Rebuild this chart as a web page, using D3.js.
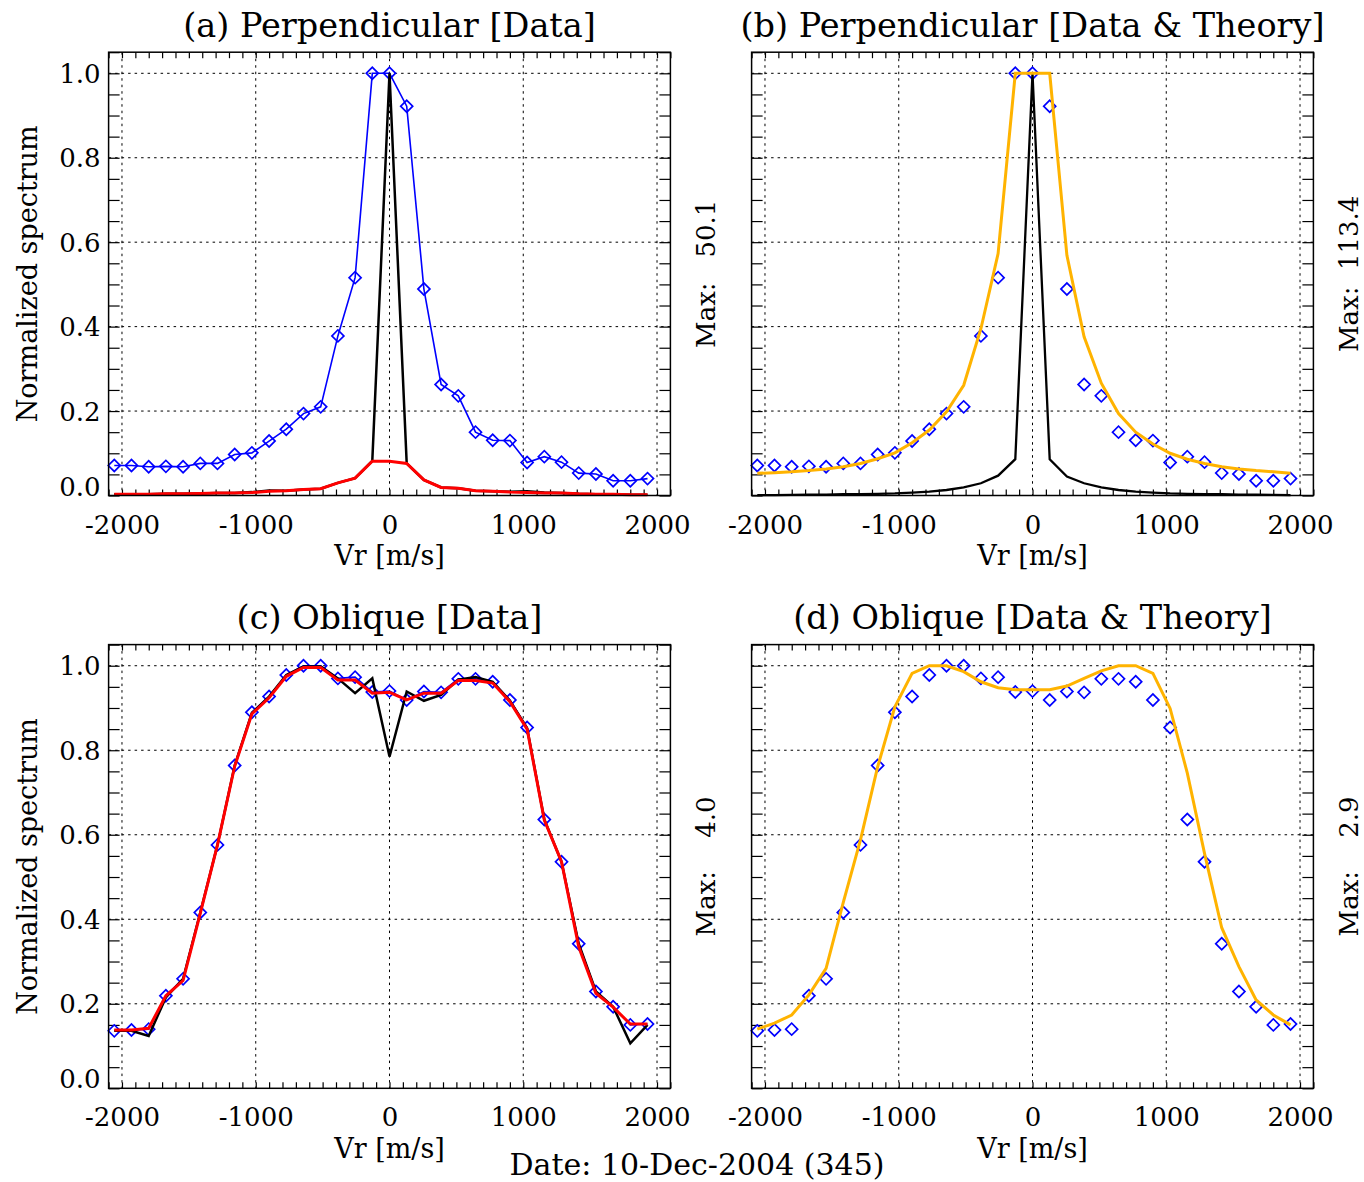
<!DOCTYPE html>
<html><head><meta charset="utf-8">
<script src="https://cdn.jsdelivr.net/npm/d3@7"></script>
<style>
body{margin:0;background:#fff}
svg text{font-family:"DejaVu Serif",serif;fill:#000}
</style>
</head><body>
<svg id="chart" width="1364" height="1182"></svg>
<script>
// ---------------- data ----------------
const vr = [-2057.6,-1929.0,-1800.4,-1671.8,-1543.2,-1414.6,-1286.0,-1157.4,-1028.8,-900.2,-771.6,-643.0,-514.4,-385.8,-257.2,-128.6,
            0,128.6,257.2,385.8,514.4,643.0,771.6,900.2,1028.8,1157.4,1286.0,1414.6,1543.2,1671.8,1800.4,1929.0];

const perpData = [0.071,0.071,0.068,0.069,0.068,0.076,0.076,0.097,0.101,0.129,0.157,0.194,0.210,0.378,0.516,1.000,
                  1.000,0.922,0.489,0.263,0.236,0.150,0.131,0.130,0.078,0.092,0.079,0.053,0.051,0.035,0.035,0.040];
const perpBlack = [0.003,0.003,0.003,0.004,0.004,0.005,0.006,0.006,0.008,0.012,0.011,0.014,0.016,0.030,0.041,0.082,
                   1.000,0.076,0.037,0.019,0.017,0.011,0.010,0.009,0.010,0.007,0.006,0.004,0.003,0.003,0.002,0.002];
const perpRed = [0.003,0.003,0.003,0.004,0.004,0.005,0.006,0.006,0.007,0.010,0.011,0.014,0.016,0.030,0.041,0.081,
                 0.081,0.076,0.037,0.019,0.017,0.011,0.010,0.008,0.007,0.006,0.006,0.004,0.003,0.003,0.002,0.002];
const perpTheory = [0.0525,0.054,0.056,0.059,0.063,0.068,0.076,0.087,0.101,0.125,0.155,0.198,0.261,0.395,0.573,1.000,
                    1.000,1.000,0.569,0.376,0.266,0.194,0.150,0.122,0.100,0.086,0.076,0.068,0.063,0.059,0.056,0.0525];
const perpTheoryBlack = [0.001,0.001,0.0015,0.002,0.002,0.003,0.003,0.004,0.005,0.007,0.009,0.013,0.019,0.029,0.047,0.086,
                         1.000,0.086,0.045,0.029,0.019,0.013,0.009,0.007,0.005,0.004,0.003,0.003,0.002,0.002,0.0015,0.001];

const obliqData = [0.136,0.138,0.140,0.219,0.259,0.416,0.576,0.764,0.890,0.927,0.978,1.000,1.000,0.970,0.973,0.938,
                   0.940,0.919,0.939,0.937,0.969,0.969,0.962,0.919,0.854,0.636,0.536,0.342,0.229,0.193,0.150,0.152];
const obliqBlack = [0.136,0.136,0.124,0.215,0.259,0.416,0.576,0.764,0.888,0.927,0.978,0.998,0.998,0.970,0.935,0.970,
                    0.785,0.939,0.917,0.931,0.967,0.973,0.962,0.917,0.852,0.636,0.536,0.342,0.229,0.193,0.1065,0.150];
const obliqRed = [0.138,0.138,0.142,0.219,0.255,0.414,0.576,0.762,0.886,0.924,0.975,0.996,0.996,0.966,0.966,0.935,
                  0.937,0.919,0.935,0.935,0.965,0.965,0.959,0.915,0.850,0.635,0.536,0.335,0.225,0.192,0.152,0.152];
const obliqTheory = [0.140,0.154,0.1735,0.221,0.284,0.440,0.588,0.761,0.903,0.982,1.000,1.000,0.986,0.962,0.948,0.943,
                     0.943,0.943,0.952,0.970,0.988,1.000,1.000,0.982,0.899,0.746,0.556,0.380,0.288,0.209,0.1735,0.150];

const titles = ["(a) Perpendicular [Data]","(b) Perpendicular [Data & Theory]","(c) Oblique [Data]","(d) Oblique [Data & Theory]"];
const maxLabels = ["Max:   50.1","Max:  113.4","Max:    4.0","Max:    2.9"];
const xTickLabels = [-2000,-1000,0,1000,2000];
const yTickLabels = [0.0,0.2,0.4,0.6,0.8,1.0];
const xLabel = "Vr [m/s]";
const yLabel = "Normalized spectrum";
const dateLabel = "Date: 10-Dec-2004 (345)";

// ---------------- drawing ----------------
const svg = d3.select("#chart");
const BLUE="#0000ff", RED="#ff0000", ORANGE="#ffb300", BLACK="#000000";

const L = {left:[108.6,670.4], right:[751.6,1313.4], top:[52.2,495.5], bottom:[644.6,1088.3]};

const panels = [
  {xr:L.left, yr:L.top, title:titles[0], ylab:true,
   layers:[{type:"line",d:perpData,c:BLUE,w:1.6},{type:"dia",d:perpData},{type:"line",d:perpBlack,c:BLACK,w:2.5},{type:"line",d:perpRed,c:RED,w:3}]},
  {xr:L.right, yr:L.top, title:titles[1], ylab:false, maxL:maxLabels[0], maxR:maxLabels[1],
   layers:[{type:"dia",d:perpData},{type:"line",d:perpTheoryBlack,c:BLACK,w:2.3},{type:"line",d:perpTheory,c:ORANGE,w:3}]},
  {xr:L.left, yr:L.bottom, title:titles[2], ylab:true,
   layers:[{type:"line",d:obliqData,c:BLUE,w:1.6},{type:"dia",d:obliqData},{type:"line",d:obliqBlack,c:BLACK,w:2.5},{type:"line",d:obliqRed,c:RED,w:3}]},
  {xr:L.right, yr:L.bottom, title:titles[3], ylab:false, maxL:maxLabels[2], maxR:maxLabels[3],
   layers:[{type:"dia",d:obliqData},{type:"line",d:obliqTheory,c:ORANGE,w:3}]}
];

const minorX = d3.range(-2100,2101,100);
const minorY = d3.range(0,1.051,0.05);

function text(g,x,y,s,size,opts={}){
  const t=g.append("text").attr("font-size",size).attr("text-anchor",opts.anchor||"middle")
    .attr("dominant-baseline","central").style("white-space","pre").text(s);
  if(opts.rot) t.attr("transform",`translate(${x},${y}) rotate(${opts.rot})`);
  else t.attr("x",x).attr("y",y);
  return t;
}

panels.forEach(p=>{
  const x=d3.scaleLinear().domain([-2100,2100]).range(p.xr);
  const y=d3.scaleLinear().domain([0,1.05]).range([p.yr[1],p.yr[0]]);
  const g=svg.append("g");
  const [X0,X1]=p.xr, [Y0,Y1]=p.yr;

  // grid
  g.append("g").selectAll("line").data(xTickLabels).join("line")
    .attr("x1",d=>x(d)).attr("x2",d=>x(d)).attr("y1",Y0).attr("y2",Y1)
    .attr("stroke","#000").attr("stroke-width",1).attr("stroke-dasharray","2.5,4");
  g.append("g").selectAll("line").data(yTickLabels.filter(v=>v>0)).join("line")
    .attr("y1",d=>y(d)).attr("y2",d=>y(d)).attr("x1",X0).attr("x2",X1)
    .attr("stroke","#000").attr("stroke-width",1).attr("stroke-dasharray","2.5,4");

  // ticks via d3 axes
  const tickStyle = sel=>{sel.select(".domain").remove(); sel.selectAll(".tick line").attr("stroke","#000").attr("stroke-width",1.2); sel.selectAll("text").remove();};
  g.append("g").attr("transform",`translate(0,${Y1})`).call(d3.axisBottom(x).tickValues(minorX).tickSize(-6)).call(tickStyle);
  g.append("g").attr("transform",`translate(0,${Y0})`).call(d3.axisTop(x).tickValues(minorX).tickSize(-6)).call(tickStyle);
  g.append("g").attr("transform",`translate(${X0},0)`).call(d3.axisLeft(y).tickValues(minorY).tickSize(-11)).call(tickStyle);
  g.append("g").attr("transform",`translate(${X1},0)`).call(d3.axisRight(y).tickValues(minorY).tickSize(-11)).call(tickStyle);

  // x tick labels
  const xa=g.append("g").attr("transform",`translate(0,${Y1})`)
    .call(d3.axisBottom(x).tickValues(xTickLabels).tickSize(0).tickFormat(d=>String(d)));
  xa.select(".domain").remove();
  xa.selectAll("text").attr("y",29).attr("dy",null).attr("dominant-baseline","central")
    .attr("font-size",26).attr("font-family","DejaVu Serif").attr("fill","#000");

  if(p.ylab){
    const ya=g.append("g").attr("transform",`translate(${X0},0)`)
      .call(d3.axisLeft(y).tickValues(yTickLabels).tickSize(0).tickFormat(d3.format(".1f")));
    ya.select(".domain").remove();
    ya.selectAll("text").attr("x",-8).attr("dy",null).attr("dominant-baseline","central")
      .attr("font-size",26).attr("font-family","DejaVu Serif").attr("fill","#000");
    ya.selectAll(".tick").filter(d=>d===0).select("text").attr("y",-9.5);
    text(g,27,(Y0+Y1)/2,yLabel,27,{rot:-90});
  }

  // data layers
  const clip = g.append("g");
  p.layers.forEach(l=>{
    if(l.type==="line"){
      clip.append("path").datum(l.d).attr("fill","none").attr("stroke",l.c).attr("stroke-width",l.w)
        .attr("stroke-linejoin","miter").attr("stroke-miterlimit",3)
        .attr("d",d3.line().x((d,i)=>x(vr[i])).y(d=>y(d)));
    } else {
      clip.append("g").selectAll("path").data(l.d).join("path")
        .attr("d",d3.symbol(d3.symbolSquare,72)())
        .attr("transform",(d,i)=>`translate(${x(vr[i])},${y(d)}) rotate(45)`)
        .attr("fill","none").attr("stroke",BLUE).attr("stroke-width",1.7);
    }
  });

  // box
  g.append("rect").attr("x",X0).attr("y",Y0).attr("width",X1-X0).attr("height",Y1-Y0)
    .attr("fill","none").attr("stroke","#000").attr("stroke-width",1.5);

  // titles and labels
  text(g,(X0+X1)/2,Y0-27,p.title,33.5);
  text(g,(X0+X1)/2,Y1+60,xLabel,27);
  if(p.maxL){
    text(g,X0-46,(Y0+Y1)/2,p.maxL,26,{rot:-90});
    text(g,X1+36,(Y0+Y1)/2,p.maxR,26,{rot:-90});
  }
});

text(svg,697,1164,dateLabel,30);
</script>
</body></html>
